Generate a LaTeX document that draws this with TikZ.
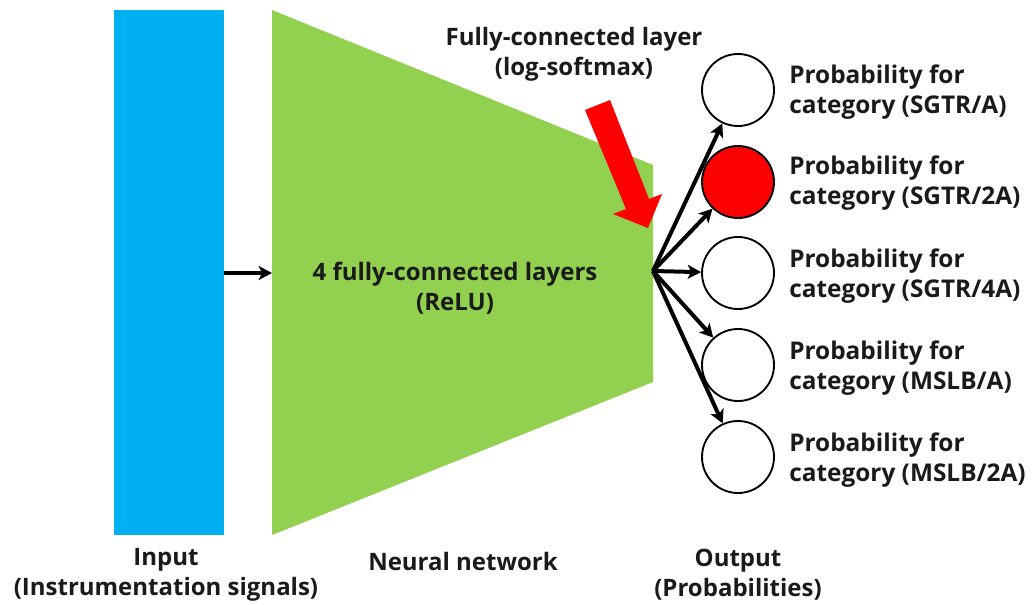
\documentclass[tikz,border=0pt]{standalone}
\usepackage{fontspec}
\setmainfont{Open Sans}
\usetikzlibrary{arrows.meta}
\definecolor{inblue}{HTML}{00B0F0}
\definecolor{nngreen}{HTML}{92D050}
\definecolor{txt}{HTML}{1A1A1A}
\begin{document}
\begin{tikzpicture}[x=0.75pt,y=-0.75pt,
  lbl/.style={font=\bfseries\fontsize{18pt}{22.5pt}\selectfont, text=txt, align=center, inner sep=0pt},
  plbl/.style={font=\bfseries\fontsize{18.3pt}{22.5pt}\selectfont, text=txt, align=left, anchor=west, inner sep=0pt},
  outc/.style={circle, draw=black, line width=1.4pt, minimum size=54pt, inner sep=0pt},
  conn/.style={line width=3pt, -{Stealth[length=10pt,width=10.5pt,inset=2.5pt]}}]
\useasboundingbox (0,0) rectangle (1034,604);
% input bar
\fill[inblue] (114,10) rectangle (224,535);
\coordinate (inR) at (224,273);
% network trapezoid
\fill[nngreen] (272,10) -- (653,165) -- (653,382) -- (272,535) -- cycle;
\coordinate (nnL) at (272,273);
\coordinate (fan) at (653,271);
\draw[conn] (inR) -- (nnL);
\node[lbl] (nnt) at (455,288) {4 fully-connected layers\\(ReLU)};
% red arrow
\fill[red] (585,110) -- (610,100) -- (649,199) -- (662,194) -- (648,228) -- (613,214) -- (626,209) -- cycle;
\node[lbl] (fct) at (574,54) {Fully-connected layer\\(log-softmax)};
% outputs
\node[outc] (c1) at (738,90) {};
\node[outc, fill=red] (c2) at (738,182) {};
\node[outc] (c3) at (738,273) {};
\node[outc] (c4) at (738,365) {};
\node[outc] (c5) at (738,457) {};
\foreach \i in {1,...,5} {\draw[conn] (fan) -- (c\i);}
\node[plbl] (p1) at (789,92) {Probability for\\category (SGTR/A)};
\node[plbl] (p2) at (789,183) {Probability for\\category (SGTR/2A)};
\node[plbl] (p3) at (789,276) {Probability for\\category (SGTR/4A)};
\node[plbl] (p4) at (789,368) {Probability for\\category (MSLB/A)};
\node[plbl] (p5) at (789,460) {Probability for\\category (MSLB/2A)};
% bottom labels
\node[lbl] (inl) at (166,575) {Input\\(Instrumentation signals)};
\node[lbl] (nnl) at (463,561) {Neural network};
\node[lbl] (outl) at (738,575) {Output\\(Probabilities)};
\end{tikzpicture}
\end{document}
